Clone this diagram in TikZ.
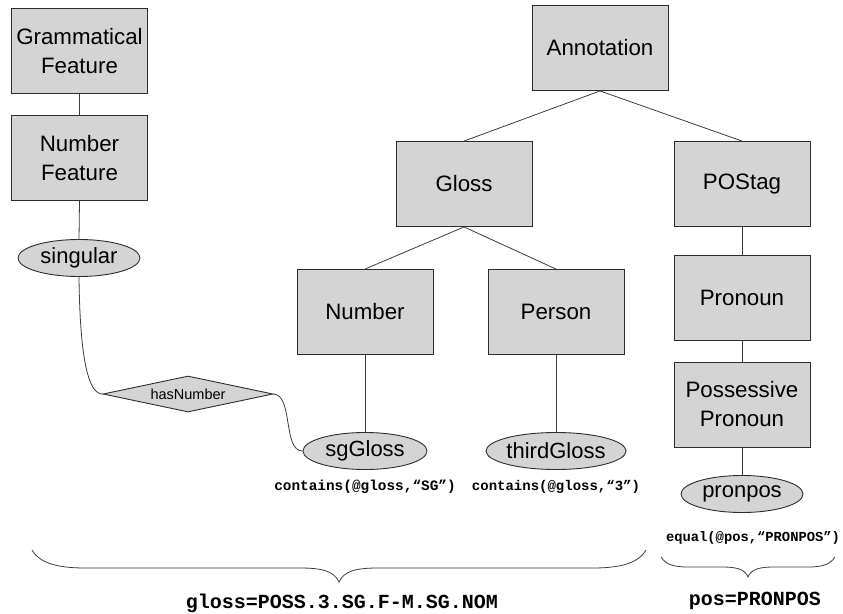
\documentclass[tikz,border=0pt]{standalone}
\usepackage{fontspec}
\setmainfont{Liberation Sans}
\setmonofont{Liberation Mono}
\usetikzlibrary{shapes.geometric,calc}
\definecolor{boxfill}{RGB}{212,212,212}
\definecolor{edgecol}{RGB}{60,60,60}
\definecolor{bordercol}{RGB}{45,45,45}
\tikzset{
  box/.style={draw=bordercol, fill=boxfill, line width=0.9pt, minimum width=136pt, minimum height=85pt,
    inner sep=0pt, align=center, font=\fontsize{22.3}{29}\selectfont},
  oval/.style={ellipse, draw=bordercol, fill=boxfill, line width=0.9pt, minimum width=122pt, minimum height=37pt,
    inner sep=0pt, font=\fontsize{22}{26}\selectfont},
  rel/.style={diamond, draw=bordercol, fill=boxfill, line width=0.9pt, minimum width=170pt, minimum height=36pt,
    shape aspect=4.7, inner sep=0pt, font=\fontsize{14.5}{17}\selectfont},
  conn/.style={draw=edgecol, line width=0.8pt},
  code/.style={font=\ttfamily\bfseries\fontsize{14.4}{16}\selectfont, inner sep=0pt},
  bigcode/.style={font=\ttfamily\bfseries\fontsize{20}{22}\selectfont, inner sep=0pt},
  bracecol/.style={draw=edgecol, line width=0.8pt},
}
\begin{document}
\begin{tikzpicture}[x=1pt,y=-1pt]
\useasboundingbox (0,0) rectangle (843,613);
% left chain
\node[box] (gf) at (79.5,51) {Grammatical\\Feature};
\node[box] (nf) at (79.5,158) {Number\\Feature};
\node[oval] (sing) at (79,258) {singular};
\node[rel] (hasn) at (188,394) {hasNumber};
% tree
\node[box] (ann) at (600,48) {Annotation};
\node[box] (gloss) at (464,184) {Gloss};
\node[box] (pos) at (742,184) {POStag};
\node[box] (num) at (365,312) {Number};
\node[box] (pers) at (556,312) {Person};
\node[box] (pron) at (742,297.5) {Pronoun};
\node[box] (poss) at (742,404.5) {Possessive\\Pronoun};
\node[oval, minimum width=124pt] (sg) at (365,451) {sgGloss};
\node[oval, minimum width=124pt] (third) at (556,451) {thirdGloss};
\node[oval] (pp) at (742,494) {pronpos};
% code labels
\node[code] (c1) at (365,487) {contains(@gloss,“SG”)};
\node[code, font=\ttfamily\bfseries\fontsize{14}{16}\selectfont] (c2) at (556,487) {contains(@gloss,“3”)};
\node[code, font=\ttfamily\bfseries\fontsize{13.8}{16}\selectfont] (c3) at (753,538) {equal(@pos,“PRONPOS”)};
\node[bigcode] (g) at (342,603) {gloss=POSS.3.SG.F-M.SG.NOM};
\node[bigcode] (p) at (755,601) {pos=PRONPOS};
% connectors
\draw[conn] (gf.south) -- (nf.north);
\draw[conn] (nf.south) -- (sing.north);
\draw[conn] (sing.south) .. controls ($(sing.south)+(1,88)$) and ($(hasn.west)+(-13,0)$) .. (hasn.west);
\draw[conn] (hasn.east) .. controls ($(hasn.east)+(20,1)$) and ($(sg.west)+(-20,0)$) .. (sg.west);
\draw[conn] (ann.south) -- (gloss.north);
\draw[conn] (ann.south) -- (pos.north);
\draw[conn] (gloss.south) -- (num.north);
\draw[conn] (gloss.south) -- (pers.north);
\draw[conn] (num.south) -- (sg.north);
\draw[conn] (pers.south) -- (third.north);
\draw[conn] (pos.south) -- (pron.north);
\draw[conn] (pron.south) -- (poss.north);
\draw[conn] (poss.south) -- (pp.north);
% braces
\coordinate (b1l) at (32,550);
\coordinate (b1t) at (339,582);
\coordinate (b1r) at (646,550);
\draw[bracecol] (b1l) .. controls (40,564) and (60,568) .. (85,568) -- (300,568)
  .. controls (322,568) and (334,571) .. (b1t)
  .. controls (344,571) and (356,568) .. (378,568) -- (593,568)
  .. controls (618,568) and (638,564) .. (b1r);
\coordinate (b2l) at (661,557);
\coordinate (b2t) at (748,577);
\coordinate (b2r) at (835,557);
\draw[bracecol] (b2l) .. controls (666,565) and (675,567) .. (688,567) -- (722,567)
  .. controls (736,567) and (745,569) .. (b2t)
  .. controls (751,569) and (760,567) .. (774,567) -- (808,567)
  .. controls (821,567) and (830,565) .. (b2r);
\end{tikzpicture}
\end{document}
